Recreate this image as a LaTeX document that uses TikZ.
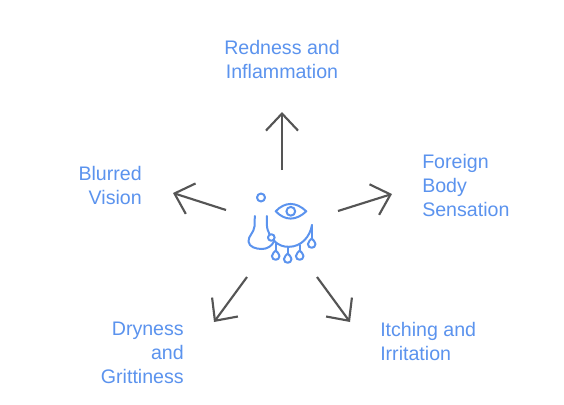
\documentclass[tikz,border=0pt]{standalone}
\usepackage{fontspec}
\setmainfont{Liberation Sans}
\usetikzlibrary{arrows.meta}
\definecolor{lbl}{HTML}{5B93EE}
\definecolor{arr}{HTML}{555555}
\tikzset{
  x=0.75pt,y=-0.75pt,
  lab/.style={inner sep=0pt,text=lbl,font=\fontsize{14.7pt}{18pt}\selectfont},
  arrowline/.style={draw=arr,line width=1.6pt,-{Straight Barb[length=12.75pt,width=24pt,line width=1.6pt]}},
  iconline/.style={draw=lbl,line width=1.5pt,line cap=round,line join=round},
}
\begin{document}
\begin{tikzpicture}
\useasboundingbox (0,0) rectangle (564,404);
\fill[white] (0,0) rectangle (564,404);
% labels
\node[lab,align=center] (red) at (282,59) {Redness and\\Inflammation};
\node[lab,align=right,anchor=east] (blur) at (142,185) {Blurred\\Vision};
\node[lab,align=left,anchor=west] (fore) at (422,185) {Foreign\\Body\\Sensation};
\node[lab,align=right,anchor=east] (dry) at (184,353) {Dryness\\and\\Grittiness};
\node[lab,align=left,anchor=west] (itch) at (380,341) {Itching and\\Irritation};
% arrows
\coordinate (us) at (282,170); \coordinate (ue) at (282,112);
\coordinate (ls) at (226,210); \coordinate (le) at (173,193);
\coordinate (rs) at (338,211); \coordinate (re) at (392,194);
\coordinate (as) at (247,277); \coordinate (ae) at (214,322);
\coordinate (bs) at (317,277); \coordinate (be) at (350,322);
\draw[arrowline] (us) -- (ue);
\draw[arrowline] (ls) -- (le);
\draw[arrowline] (rs) -- (re);
\draw[arrowline] (as) -- (ae);
\draw[arrowline] (bs) -- (be);
% icon
\draw[iconline] (261,197.5) circle[radius=4];
\draw[iconline] (275.7,211.3) .. controls (285,201.5) and (296,201.5) .. (306.3,211.3)
  .. controls (296,221) and (285,221) .. cycle;
\draw[iconline] (290.8,211.3) circle[radius=4.4];
\draw[iconline] (254.8,216) -- (254.6,226) .. controls (254,233) and (248,236) .. (248.5,241.5)
  .. controls (249,247) and (256,249) .. (262,249) .. controls (267,249) and (272,246) .. (274,241.5);
\draw[iconline] (266.8,216) -- (266.8,224) .. controls (267,229) and (268,231) .. (269.5,234.2);
\draw[iconline] (271.3,237.5) circle[radius=3.3];
\draw[iconline] (274,240.5) .. controls (279,246) and (284,246.8) .. (289,246.8)
  .. controls (301,246.8) and (310,237) .. (312,225);
\foreach \x/\a/\b in {275.7/243.5/250.5, 287.7/246.8/253.5, 299.7/245/250.5, 311.7/225/238.5}{
  \draw[iconline] (\x,\a) -- (\x,\b);
  \draw[iconline] (\x,\b) .. controls (\x-1,\b+1.5) and (\x-3.8,\b+3) .. (\x-3.8,\b+5.5)
    .. controls (\x-3.8,\b+10.5) and (\x+3.8,\b+10.5) .. (\x+3.8,\b+5.5)
    .. controls (\x+3.8,\b+3) and (\x+1,\b+1.5) .. (\x,\b);
}
\end{tikzpicture}
\end{document}
